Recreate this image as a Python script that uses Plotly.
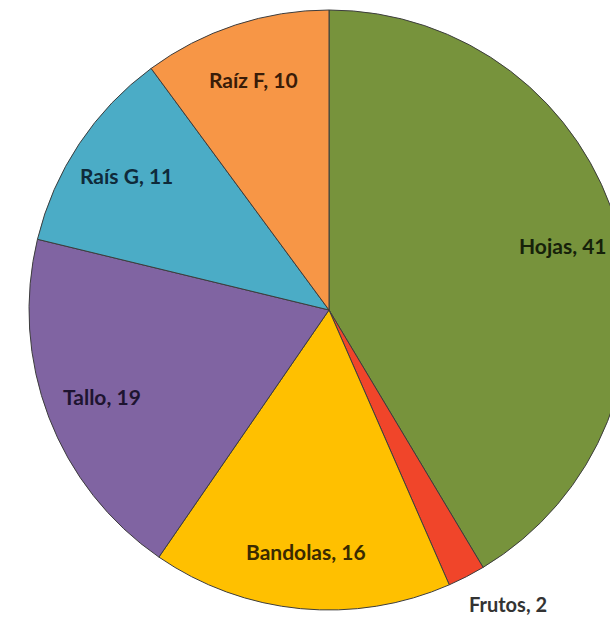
import math
import plotly.graph_objects as go

# slices, clockwise from 12 o'clock
labels = ["Hojas", "Frutos", "Bandolas", "Tallo", "Raís G", "Raíz F"]
values = [41, 2, 16, 19, 11, 10]
colors = ["#77933C", "#F0452A", "#FFC000", "#8064A2", "#4BACC6", "#F79646"]
text_colors = ["#16210A", "#333333", "#3A2A00", "#1E1430", "#0F2A3A", "#3A1C08"]

W, H = 658, 618          # figure is wider than the window -> right edge cut off
R = 300                  # pie radius in px
CX, CY = 329, 310        # pie centre in px (from top-left)

fig = go.Figure()

fig.add_trace(go.Pie(
    labels=labels,
    values=values,
    sort=False,
    direction="clockwise",
    rotation=0,
    marker=dict(colors=colors, line=dict(color="#3D3D3D", width=1)),
    textinfo="none",
    showlegend=False,
    hoverinfo="label+value+percent",
    domain=dict(x=[0, 1], y=[(H - CY - R) / H, (H - CY + R) / H]),
))

# data labels placed along each slice's mid angle (like the Excel chart);
# axes are in units of the pie radius, centred on the pie
total = sum(values)
cum = 0
for lab, v, tc in zip(labels, values, text_colors):
    mid = (cum + v / 2) / total * 2 * math.pi
    cum += v
    outside = v / total < 0.05
    r = 1.05 if outside else 0.81
    sx, sy = math.sin(mid), math.cos(mid)
    fig.add_annotation(
        x=r * sx, y=r * sy, xref="x", yref="y",
        text=f"{lab}, {v}",
        showarrow=False,
        xanchor=("left" if sx > 0 else "right") if outside else "center",
        yanchor=("top" if sy < 0 else "bottom") if outside else "middle",
        xshift=-6 if outside else 0,
        font=dict(family="Lato", size=21 if not outside else 20, color=tc, weight="bold"),
    )

fig.update_layout(
    width=W,
    height=H,
    margin=dict(l=0, r=0, t=0, b=0),
    paper_bgcolor="white",
    plot_bgcolor="rgba(0,0,0,0)",
    xaxis=dict(range=[-CX / R, (W - CX) / R], visible=False, fixedrange=True),
    yaxis=dict(range=[-(H - CY) / R, CY / R], visible=False, fixedrange=True),
)

fig.write_html(
    "out.html",
    config={"displayModeBar": False},
    post_script="document.body.style.margin='0';document.body.style.overflow='hidden';",
)
